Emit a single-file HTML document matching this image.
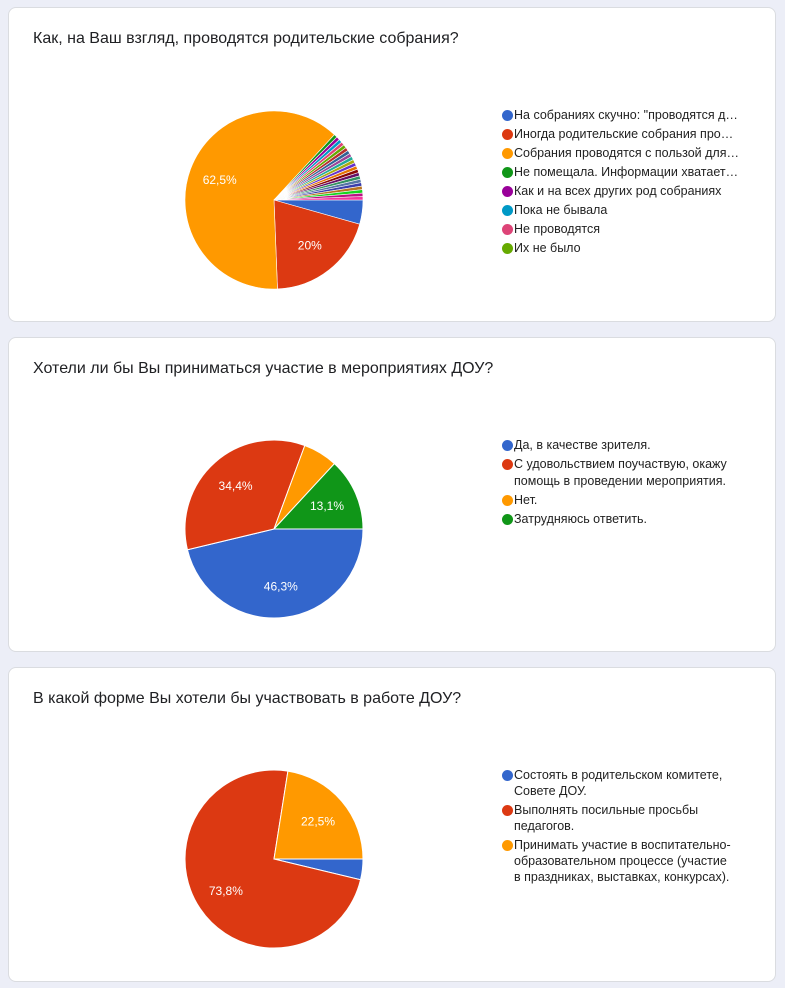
<!DOCTYPE html>
<html><head><meta charset="utf-8">
<style>
body{margin:0;width:785px;height:988px;background:#eceef7;font-family:"Liberation Sans",Arial,sans-serif;position:relative;overflow:hidden}
.card{position:absolute;left:8px;width:768px;height:315px;background:#fff;border:1px solid #dadce0;border-radius:8px;box-sizing:border-box}
.title{position:absolute;left:24px;top:22px;font-size:16px;color:#202124;white-space:nowrap}
svg{position:absolute;left:0;top:0}
.leg{position:absolute;left:493px;font-size:12.5px;color:#222}
.li{position:relative;padding-left:12px;line-height:17px;margin-bottom:2px}
.li .d{position:absolute;left:0;top:3px;width:11px;height:11px;border-radius:50%}
.li span{display:block;padding-left:0}
.li .t{margin-left:0;padding-left:0;position:relative;left:0}
</style></head><body>

<div class="card" style="top:7px">
 <div class="title">Как, на Ваш взгляд, проводятся родительские собрания?</div>
 <svg id="pie1" width="768" height="315"></svg>
 <div class="leg" style="top:99px">
  <div class="li"><i class="d" style="background:#3366cc"></i><span class="t">На собраниях скучно: "проводятся д…</span></div>
  <div class="li"><i class="d" style="background:#dc3912"></i><span class="t">Иногда родительские собрания про…</span></div>
  <div class="li"><i class="d" style="background:#ff9900"></i><span class="t">Собрания проводятся с пользой для…</span></div>
  <div class="li"><i class="d" style="background:#109618"></i><span class="t">Не помещала. Информации хватает…</span></div>
  <div class="li"><i class="d" style="background:#990099"></i><span class="t">Как и на всех других род собраниях</span></div>
  <div class="li"><i class="d" style="background:#0099c6"></i><span class="t">Пока не бывала</span></div>
  <div class="li"><i class="d" style="background:#dd4477"></i><span class="t">Не проводятся</span></div>
  <div class="li"><i class="d" style="background:#66aa00"></i><span class="t">Их не было</span></div>
 </div>
</div>

<div class="card" style="top:337px">
 <div class="title">Хотели ли бы Вы приниматься участие в мероприятиях ДОУ?</div>
 <svg id="pie2" width="768" height="315"></svg>
 <div class="leg" style="top:99px;width:240px">
  <div class="li"><i class="d" style="background:#3366cc"></i><span class="t">Да, в качестве зрителя.</span></div>
  <div class="li"><i class="d" style="background:#dc3912"></i><span class="t">С удовольствием поучаствую, окажу помощь в проведении мероприятия.</span></div>
  <div class="li"><i class="d" style="background:#ff9900"></i><span class="t">Нет.</span></div>
  <div class="li"><i class="d" style="background:#109618"></i><span class="t">Затрудняюсь ответить.</span></div>
 </div>
</div>

<div class="card" style="top:667px">
 <div class="title">В какой форме Вы хотели бы участвовать в работе ДОУ?</div>
 <svg id="pie3" width="768" height="315"></svg>
 <div class="leg" style="top:99px;width:230px">
  <div class="li" style="line-height:16px;margin-bottom:3px"><i class="d" style="background:#3366cc"></i><span class="t">Состоять в родительском комитете, Совете ДОУ.</span></div>
  <div class="li" style="line-height:16px;margin-bottom:3px"><i class="d" style="background:#dc3912"></i><span class="t">Выполнять посильные просьбы педагогов.</span></div>
  <div class="li" style="line-height:16px;margin-bottom:3px"><i class="d" style="background:#ff9900"></i><span class="t">Принимать участие в воспитательно-образовательном процессе (участие в праздниках, выставках, конкурсах).</span></div>
 </div>
</div>

<script>
const palette=["#3366cc","#dc3912","#ff9900","#109618","#990099","#0099c6","#dd4477","#66aa00","#b82e2e","#316395","#994499","#22aa99","#aaaa11","#6633cc","#e67300","#8b0707","#651067","#329262","#5574a6","#3b3eac","#b77322","#16d620","#b91383","#f4359e","#9c5935","#a9c413","#2a778d","#668d1c"];
const pie1Values=[7,32,100,1,1,1,1,1,1,1,1,1,1,1,1,1,1,1,1,1,1,1,1,1];
const pie1Labels=["4,4%","20%","62,5%"];
const pie2Values=[74,55,10,21];
const pie2Labels=["46,3%","34,4%","6,3%","13,1%"];
const pie3Values=[3,59,18];
const pie3Labels=["3,8%","73,8%","22,5%"];

function drawPie(id,values,labels,cx,cy,r){
  const svg=document.getElementById(id);
  const NS="http://www.w3.org/2000/svg";
  const total=values.reduce((a,b)=>a+b,0);
  let a=90;
  const pt=(ang,rr)=>[cx+rr*Math.sin(ang*Math.PI/180),cy-rr*Math.cos(ang*Math.PI/180)];
  values.forEach((v,i)=>{
    const sweep=v/total*360;
    const [x1,y1]=pt(a,r),[x2,y2]=pt(a+sweep,r);
    const p=document.createElementNS(NS,"path");
    p.setAttribute("d",`M${cx},${cy}L${x1},${y1}A${r},${r} 0 ${sweep>180?1:0} 1 ${x2},${y2}Z`);
    p.setAttribute("fill",palette[i%palette.length]);
    p.setAttribute("stroke","#fff");
    p.setAttribute("stroke-width",values.length>8?"0.6":"1");
    
    
    svg.appendChild(p);
    if(v/total>=0.1&&labels[i]){
      const [lx,ly]=pt(a+sweep/2,r*0.65);
      const t=document.createElementNS(NS,"text");
      t.setAttribute("x",lx);t.setAttribute("y",ly+4);
      t.setAttribute("text-anchor","middle");
      t.setAttribute("fill","#fff");
      t.setAttribute("font-size","12");
      t.setAttribute("font-family","Liberation Sans, sans-serif");
      t.textContent=labels[i];
      
      
      svg.appendChild(t);
    }
    a+=sweep;
  });
}
drawPie("pie1",pie1Values,pie1Labels,265,192,89);
drawPie("pie2",pie2Values,pie2Labels,265,191,89);
drawPie("pie3",pie3Values,pie3Labels,265,191,89);
</script>
</body></html>
